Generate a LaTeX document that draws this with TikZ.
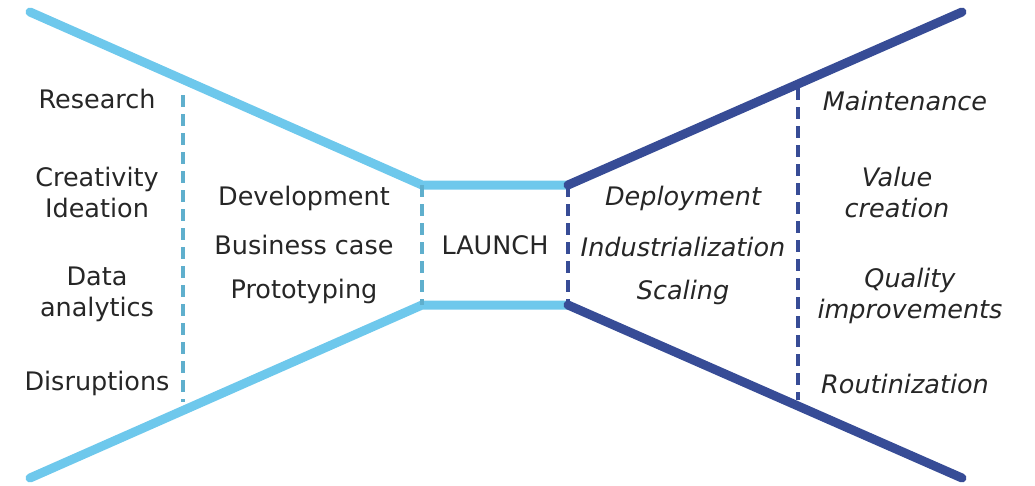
\documentclass[tikz,border=0pt]{standalone}
\usepackage{fontspec}
\setmainfont{DejaVu Sans}
\definecolor{lightfunnel}{RGB}{110,200,236}
\definecolor{darkfunnel}{RGB}{55,76,150}
\definecolor{lightdash}{RGB}{95,175,205}
\tikzset{
  phase/.style={font=\fontsize{25.5}{31}\selectfont, align=center, inner sep=0pt, text=black!85},
  phaseit/.style={phase, font=\fontsize{25.5}{31}\selectfont\itshape},
  funnellight/.style={lightfunnel, line width=9pt, line cap=round, line join=round},
  funneldark/.style={darkfunnel, line width=9pt, line cap=round, line join=round},
  dashlight/.style={lightdash, line width=3.2pt, dash pattern=on 12pt off 7pt},
  dashdark/.style={darkfunnel, line width=3.2pt, dash pattern=on 12pt off 7pt}
}
\begin{document}
\begin{tikzpicture}[x=1pt,y=-1pt]
    \useasboundingbox (0,0) rectangle (1035,485);
    % funnel corners
    \coordinate (tl) at (30,12);
    \coordinate (bl) at (30,478);
    \coordinate (ctl) at (422,185);
    \coordinate (cbl) at (422,305);
    \coordinate (ctr) at (568,185);
    \coordinate (cbr) at (568,305);
    \coordinate (tr) at (962,12);
    \coordinate (br) at (962,478);
    % divider ends
    \coordinate (dl1) at (183,95);
    \coordinate (dl2) at (183,402);
    \coordinate (dr1) at (798,88);
    \coordinate (dr2) at (798,400);
    % funnel
    \draw [funnellight] (tl) -- (ctl) -- (ctr);
    \draw [funnellight] (bl) -- (cbl) -- (cbr);
    \draw [funneldark] (ctr) -- (tr);
    \draw [funneldark] (cbr) -- (br);
    % dividers
    \draw [dashlight] (dl1) -- (dl2);
    \draw [dashlight] (ctl) -- (cbl);
    \draw [dashdark] (ctr) -- (cbr);
    \draw [dashdark] (dr1) -- (dr2);
    % left phase
    \node [phase] (research) at (97,99) {Research};
    \node [phase] (creativity) at (97,192) {Creativity\\Ideation};
    \node [phase] (data) at (97,294) {Data\\analytics};
    \node [phase] (disruptions) at (97,383) {Disruptions};
    % development phase
    \node [phase] (development) at (304,198) {Development};
    \node [phase] (business) at (304,245) {Business case};
    \node [phase] (prototyping) at (304,291) {Prototyping};
    \node [phase] (launch) at (495,245) {LAUNCH};
    % deployment phase
    \node [phaseit] (deployment) at (683,198) {Deployment};
    \node [phaseit] (industrial) at (683,247) {Industrialization};
    \node [phaseit] (scaling) at (683,292) {Scaling};
    % right phase
    \node [phaseit] (maintenance) at (905,101) {Maintenance};
    \node [phaseit] (value) at (897,192) {Value\\creation};
    \node [phaseit] (quality) at (910,296) {Quality\\improvements};
    \node [phaseit] (routine) at (905,384) {Routinization};
\end{tikzpicture}
\end{document}
